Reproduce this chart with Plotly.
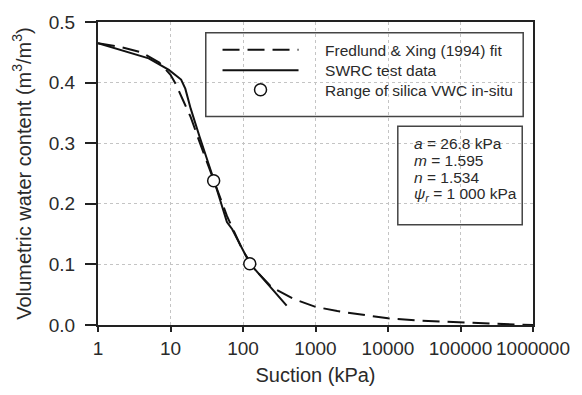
import plotly.graph_objects as go

# Fredlund & Xing (1994) fit
fit_suction = [1, 2, 4, 7, 10, 12, 15, 19, 25, 40, 60, 100, 150, 250, 500, 1000, 2000, 5000, 10000, 30000, 100000, 300000, 1000000]
fit_vwc = [0.465, 0.459, 0.450, 0.433, 0.413, 0.396, 0.370, 0.343, 0.303, 0.238, 0.180, 0.122, 0.090, 0.062, 0.043, 0.030, 0.023, 0.016, 0.011, 0.007, 0.004, 0.002, 0.0]

# SWRC test data
test_suction = [1, 5, 9.5, 14, 16, 19, 25, 40, 60, 71, 125, 230, 400]
test_vwc = [0.465, 0.440, 0.421, 0.405, 0.390, 0.357, 0.312, 0.238, 0.170, 0.158, 0.101, 0.064, 0.032]

# Range of silica VWC in-situ
insitu_suction = [39.4, 124]
insitu_vwc = [0.238, 0.101]

x_tickvals = [1, 10, 100, 1000, 10000, 100000, 1000000]
x_ticktext = ["1", "10", "100", "1000", "10000", "100000", "1000000"]
y_tickvals = [0.0, 0.1, 0.2, 0.3, 0.4, 0.5]

FONT = "Arial, Liberation Sans, sans-serif"
TXT = "#2a2a2a"
LINE = "#111111"
PAD = "\u00a0" * 5

fig = go.Figure()
fig.add_trace(go.Scatter(x=fit_suction, y=fit_vwc, mode="lines",
                         name=PAD + "Fredlund & Xing (1994) fit", legend="legend",
                         line=dict(color=LINE, width=2, dash="17px,8px")))
fig.add_trace(go.Scatter(x=test_suction, y=test_vwc, mode="lines",
                         name=PAD + "SWRC test data", legend="legend2",
                         line=dict(color=LINE, width=2)))
fig.add_trace(go.Scatter(x=insitu_suction, y=insitu_vwc, mode="markers",
                         name=PAD + "Range of silica VWC in-situ", legend="legend3",
                         marker=dict(symbol="circle", size=12, color="white",
                                     line=dict(color=LINE, width=1.5))))

L, R, T, B = 98, 40, 16, 68
W, H = 582, 395
pw, ph = W - L - R, H - T - B

def px(x):
    return (x - L) / pw

def py(y):
    return (H - B - y) / ph

def leg(row_y):
    return dict(x=px(220), y=py(row_y), xanchor="left", yanchor="middle",
                bgcolor="rgba(0,0,0,0)", borderwidth=0,
                font=dict(size=15.5, color=TXT, family=FONT),
                itemwidth=76)

fig.update_layout(
    width=W, height=H,
    margin=dict(l=L, r=R, t=T, b=B),
    paper_bgcolor="white", plot_bgcolor="white",
    font=dict(family=FONT, color=TXT, size=18),
    showlegend=True,
    legend=leg(45), legend2=leg(66), legend3=leg(86),
    xaxis=dict(type="log", range=[0, 6], tickvals=x_tickvals, ticktext=x_ticktext,
               showline=True, linecolor="#222", linewidth=2, mirror=True,
               ticks="outside", ticklen=5, tickwidth=1.5, tickcolor="#222",
               showgrid=True, gridcolor="#c4c4c4", griddash="dot", gridwidth=1,
               zeroline=False, tickfont=dict(size=19, color=TXT),
               title=dict(text="Suction (kPa)", font=dict(size=20, color=TXT), standoff=10)),
    yaxis=dict(range=[0, 0.5], tickvals=y_tickvals, tickformat=".1f",
               showline=True, linecolor="#222", linewidth=2, mirror=True,
               ticks="outside", ticklen=11, tickwidth=1.5, tickcolor="#222",
               showgrid=True, gridcolor="#c4c4c4", griddash="dot", gridwidth=1,
               zeroline=False, tickfont=dict(size=19, color=TXT),
               ticklabelstandoff=6,
               title=dict(text="Volumetric water content (m<sup>3</sup>/m<sup>3</sup>)",
                          font=dict(size=20, color=TXT), standoff=12)),
)

# legend frame
fig.add_shape(type="rect", xref="paper", yref="paper",
              x0=px(208), x1=px(532), y0=py(113), y1=py(27),
              line=dict(color="#444", width=1.5), fillcolor="rgba(0,0,0,0)", layer="above")
# parameter box
fig.add_shape(type="rect", xref="paper", yref="paper",
              x0=px(404), x1=px(531), y0=py(224), y1=py(123),
              line=dict(color="#444", width=1.5), fillcolor="rgba(0,0,0,0)", layer="above")

params = ["<i>a</i> = 26.8 kPa", "<i>m</i> = 1.595", "<i>n</i> = 1.534",
          "<i>ψ<sub>r</sub></i> = 1 000 kPa"]
param_y = [140.5, 158.5, 175.5, 193.5]
for txt, yy in zip(params, param_y):
    fig.add_annotation(text=txt, xref="paper", yref="paper", x=px(418), y=py(yy),
                       xanchor="left", yanchor="middle", showarrow=False,
                       font=dict(size=15.5, color=TXT, family=FONT))

fig.write_html("out.html")
